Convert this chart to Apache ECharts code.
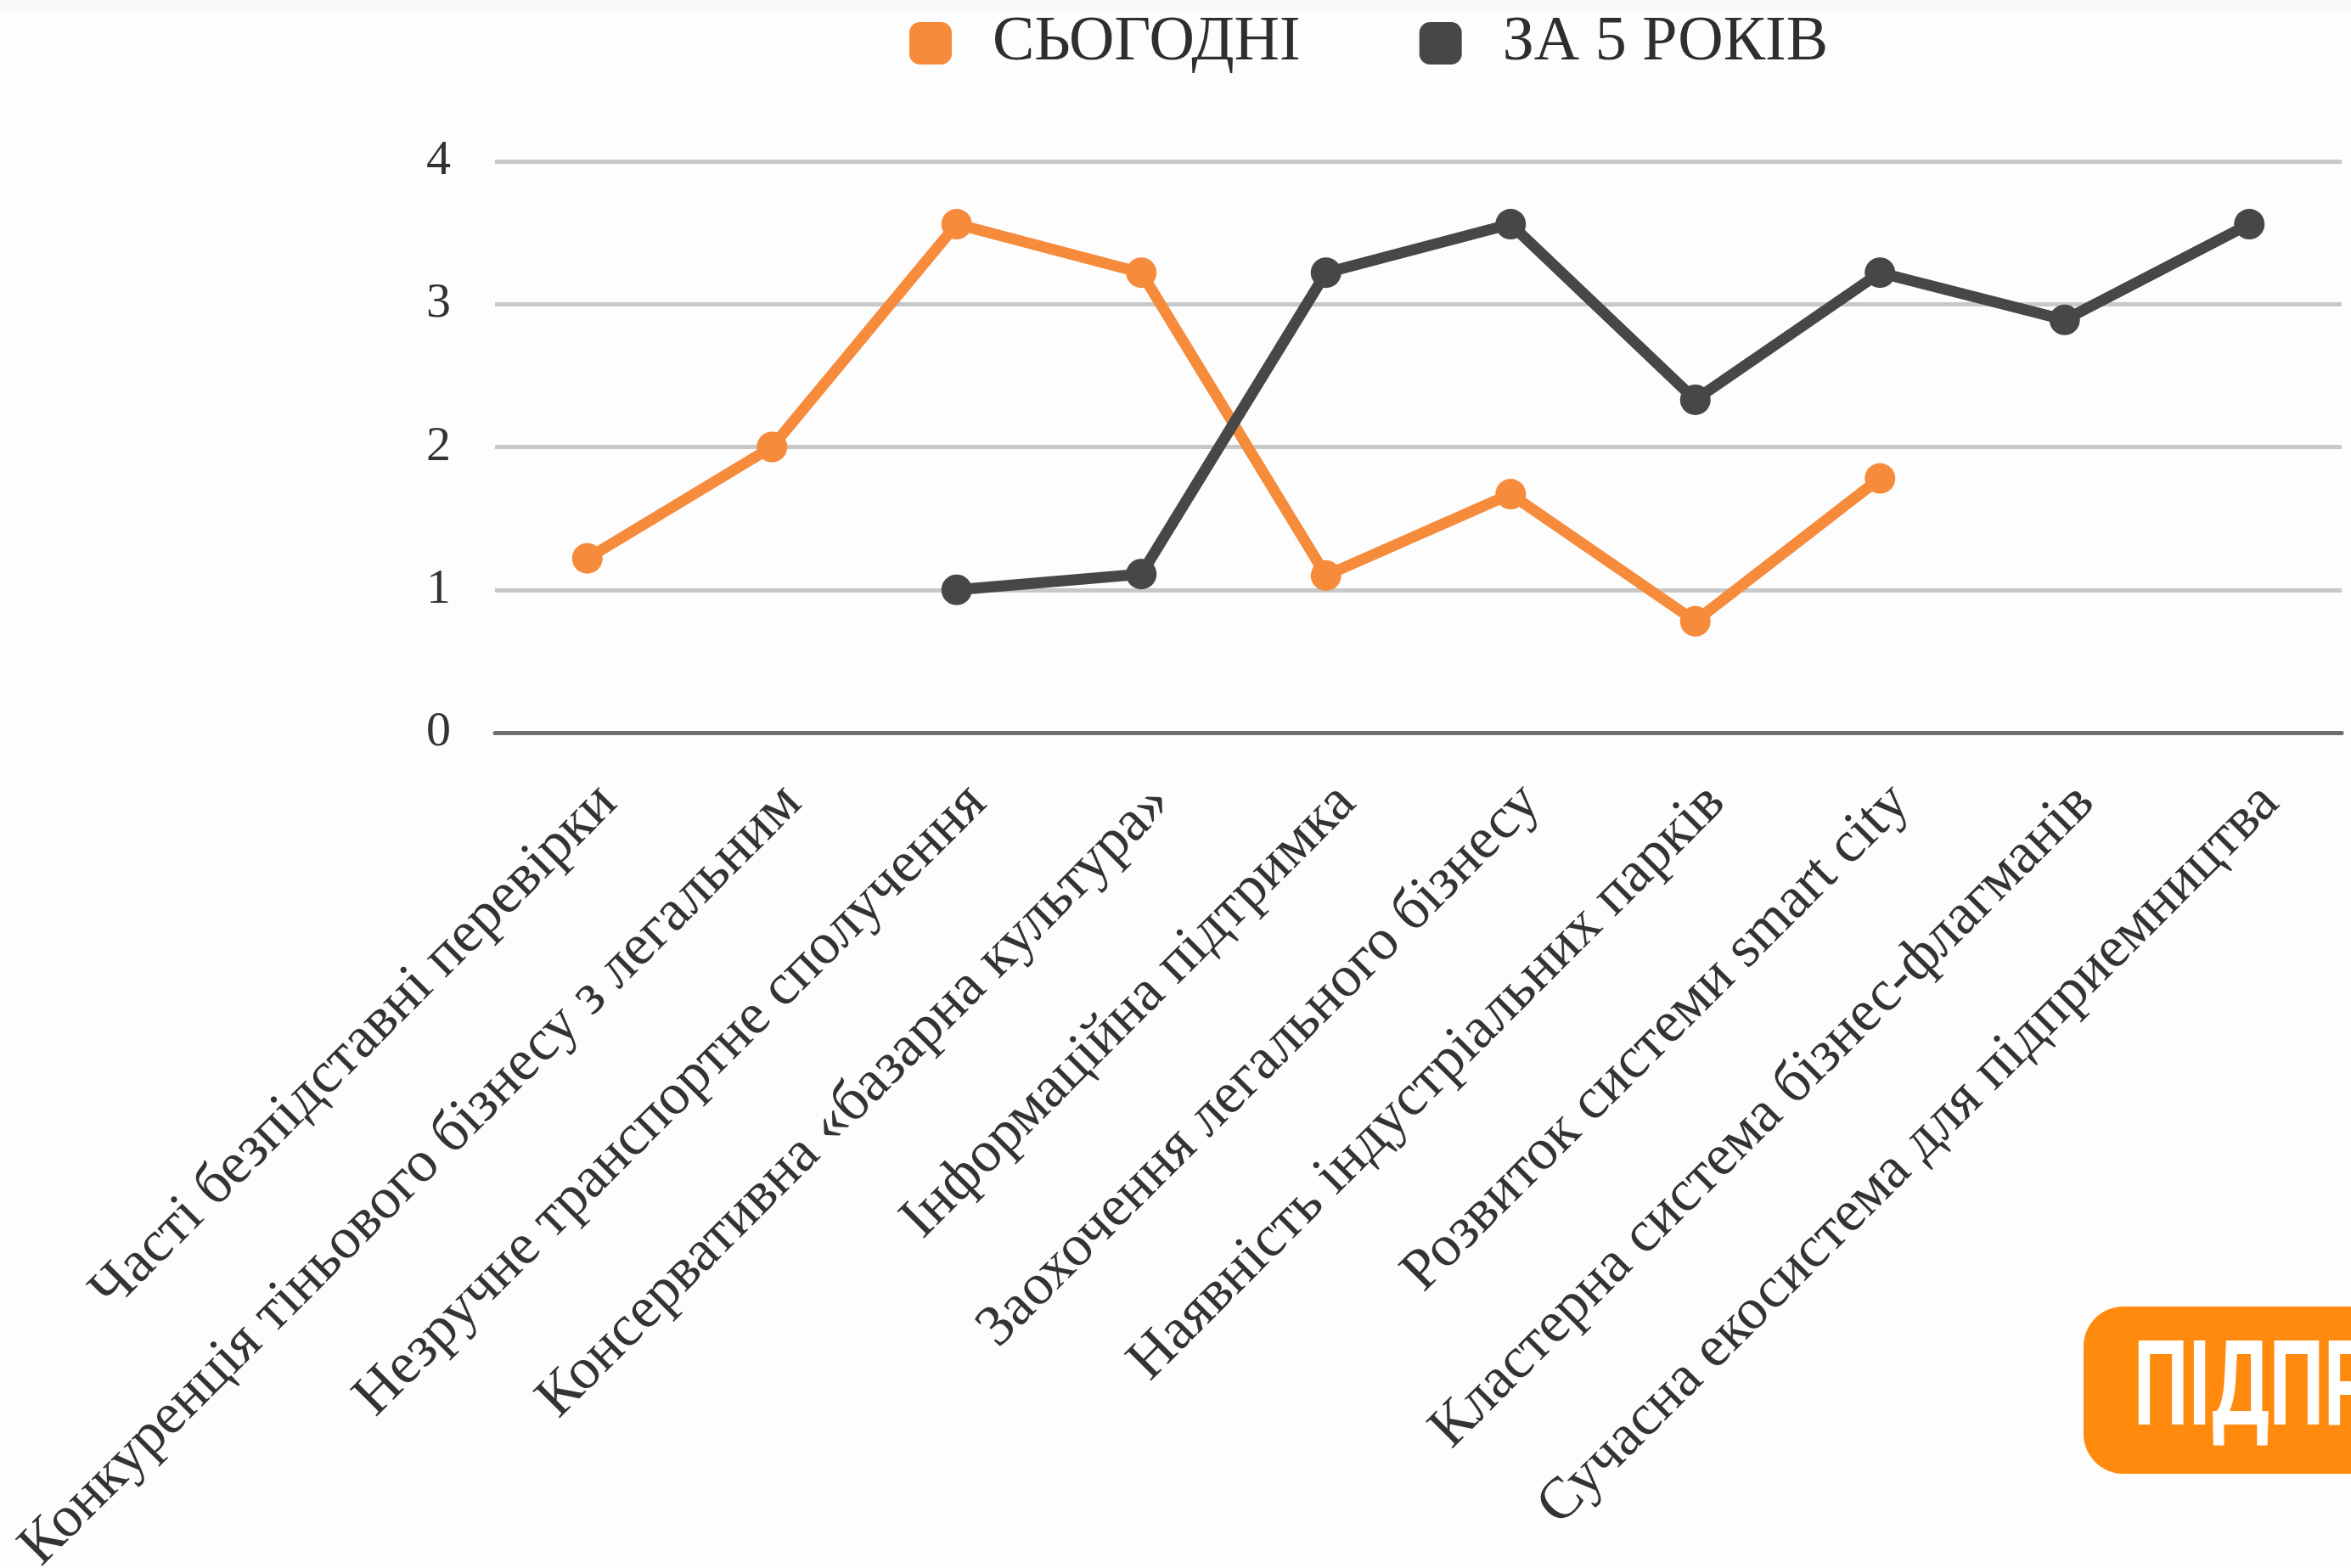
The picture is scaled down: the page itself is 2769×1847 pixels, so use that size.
<!DOCTYPE html>
<html><head><meta charset="utf-8">
<style>html,body{margin:0;padding:0;background:#fdfdfd;}#c{width:2769px;height:1847px;}</style>
<script src="https://cdn.jsdelivr.net/npm/echarts@6/dist/echarts.min.js"></script>
</head><body><div id="c"></div>
<script>
var categories = [
  'Часті безпідставні перевірки',
  'Конкуренція тіньового бізнесу з легальним',
  'Незручне транспортне сполучення',
  'Консервативна «базарна культура»',
  'Інформаційна підтримка',
  'Заохочення легального бізнесу',
  'Наявність індустріальних парків',
  'Розвиток системи smart city',
  'Кластерна система бізнес-флагманів',
  'Сучасна екосистема для підприемництва'
];
var seriesNames = ['СЬОГОДНІ', 'ЗА 5 РОКІВ'];
var today = [1.22, 2.0, 3.56, 3.22, 1.1, 1.67, 0.78, 1.78, null, null];
var in5years = [null, null, 1.0, 1.11, 3.22, 3.56, 2.33, 3.22, 2.89, 3.56];
var yTicks = [0, 1, 2, 3, 4];
var badgeText = 'ПІДПР';

var serif = '"Liberation Serif", "DejaVu Serif", serif';
var chart = echarts.init(document.getElementById('c'), null, {renderer: 'canvas'});
chart.setOption({
  backgroundColor: '#fdfdfd',
  animation: false,
  color: ['#f68b3c', '#474747'],
  legend: {
    left: 1066, top: 9,
    icon: 'roundRect',
    itemWidth: 50, itemHeight: 50, itemGap: 140,
    textStyle: {fontFamily: serif, fontSize: 74, color: '#2e2e2e', padding: [0, 0, 0, 43]},
    data: seriesNames
  },
  grid: {left: 583, right: 11, top: 190, bottom: 984, containLabel: false, outerBoundsMode: 'none'},
  xAxis: {
    type: 'category',
    data: categories,
    boundaryGap: true,
    axisLine: {show: true, lineStyle: {color: '#6e6e6e', width: 5}},
    axisTick: {show: false},
    axisLabel: {rotate: 45, interval: 0, margin: 48, verticalAlign: 'top',
      fontFamily: serif, fontSize: 69, color: '#333333'}
  },
  yAxis: {
    type: 'value', min: 0, max: 4, interval: 1,
    axisLine: {show: false}, axisTick: {show: false},
    splitLine: {lineStyle: {color: '#c8c8c8', width: 5}},
    axisLabel: {margin: 52, fontFamily: serif, fontSize: 58, color: '#333333',
      formatter: function (v) { return yTicks.indexOf(v) >= 0 ? String(v) : ''; }}
  },
  series: [
    {name: seriesNames[0], type: 'line', data: today, connectNulls: false,
     symbol: 'circle', symbolSize: 36, lineStyle: {width: 13}, z: 3},
    {name: seriesNames[1], type: 'line', data: in5years, connectNulls: false,
     symbol: 'circle', symbolSize: 36, lineStyle: {width: 13}, z: 4}
  ],
  graphic: [
    {type: 'rect', left: 0, top: 0, z: -1, shape: {x: 0, y: 0, width: 2769, height: 14}, style: {fill: '#f8f9fb'}},
    {type: 'rect', z: 10, shape: {x: 2454, y: 1539, width: 500, height: 197, r: 47}, style: {fill: '#ff8a0e'}},
    {type: 'text', z: 11, x: 2513, y: 1713, scaleX: 0.65, scaleY: 1, originX: 0, originY: 0,
     style: {text: badgeText, fill: '#ffffff', fontSize: 140, fontWeight: 'bold',
       fontFamily: 'Roboto, "DejaVu Sans", sans-serif',
       textAlign: 'left', textVerticalAlign: 'bottom'}}
  ]
});
</script></body></html>
